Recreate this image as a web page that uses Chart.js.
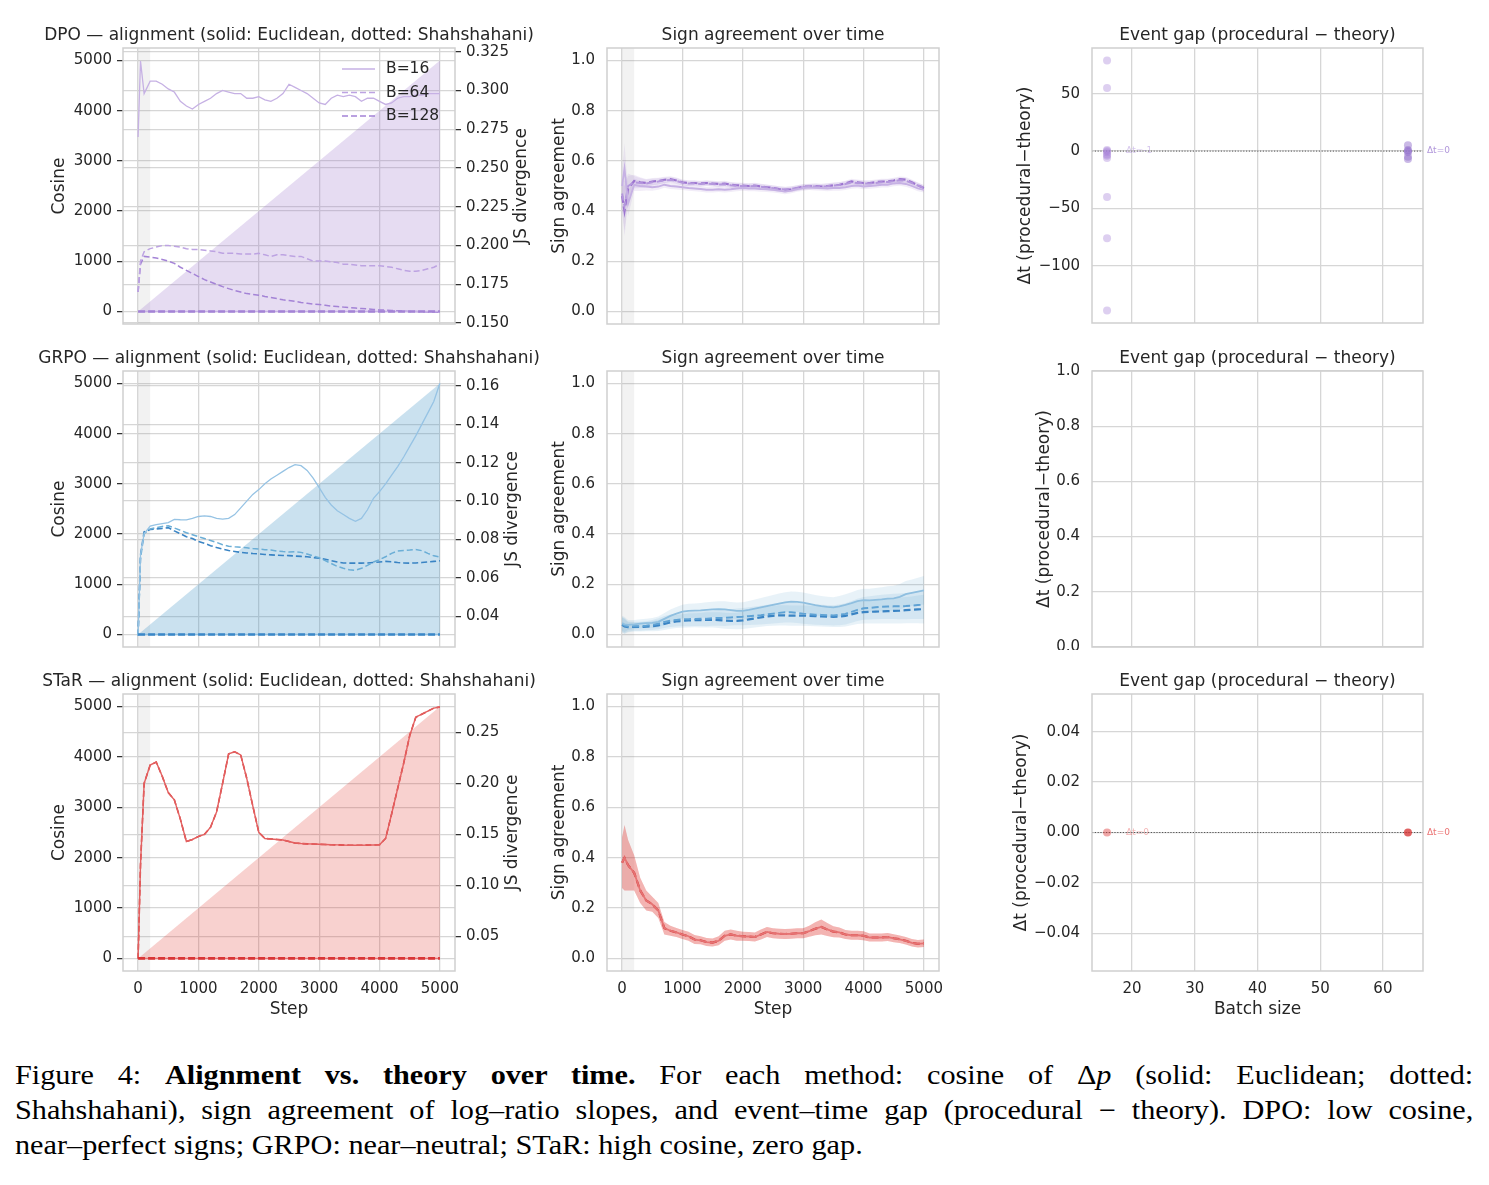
<!DOCTYPE html>
<html>
<head>
<meta charset="utf-8">
<script src="https://cdn.jsdelivr.net/npm/chart.js@4.4.1/dist/chart.umd.min.js"></script>
<style>
  body { margin: 0; background: #fff; width: 1489px; height: 1185px; position: relative; overflow: hidden; }
  canvas { position: absolute; }
  .cap { position: absolute; left: 15px; width: 1302px; transform: scaleX(1.12); transform-origin: left top;
         font-family: 'Liberation Serif', serif; font-size: 27px; line-height: 35px; color: #000;
         text-align: justify; text-align-last: justify; }
</style>
</head>
<body>
<canvas id="dpoAlign"></canvas><canvas id="dpoSign"></canvas><canvas id="dpoGap"></canvas>
<canvas id="grpoAlign"></canvas><canvas id="grpoSign"></canvas><canvas id="grpoGap"></canvas>
<canvas id="starAlign"></canvas><canvas id="starSign"></canvas><canvas id="starGap"></canvas>

<div class="cap" style="top:1058px">Figure 4: <b>Alignment vs. theory over time.</b> For each method: cosine of Δ<i>p</i> (solid: Euclidean; dotted:</div>
<div class="cap" style="top:1093px">Shahshahani), sign agreement of log–ratio slopes, and event–time gap (procedural − theory). DPO: low cosine,</div>
<div class="cap" style="top:1128px;text-align-last:left">near–perfect signs; GRPO: near–neutral; STaR: high cosine, zero gap.</div>

<script>
// ---- data ----
const steps = [0,40,100,200,300,400,500,600,700,800,900,1000,1100,1200,1300,1400,1500,1600,1700,1800,
  1900,2000,2100,2200,2300,2400,2500,2600,2700,2800,2900,3000,3100,3200,3300,3400,3500,3600,3700,3800,
  3900,4000,4100,4200,4300,4400,4500,4600,4700,4800,4900,5000];

// shaded step counter drawn on the cosine axis, and the cosine traces (flat at 0)
const fillSteps = [0, 5000];
const fillVals = [0, 5000];
const cosSteps = [0, 5000];
const dpoCos = [0, 0];
const grpoCos = [0, 0];
const starCos = [0, 0];

// JS divergence (right axis)
const dpoJs16 = [0.270,0.319,0.298,0.306,0.306,0.304,0.301,0.299,0.293,0.290,
  0.288,0.291,0.293,0.295,0.298,0.300,0.299,0.298,0.298,0.295,
  0.295,0.296,0.294,0.293,0.295,0.298,0.304,0.302,0.300,0.298,
  0.295,0.292,0.291,0.295,0.297,0.296,0.297,0.296,0.293,0.295,
  0.295,0.293,0.291,0.292,0.295,0.296,0.296,0.297,0.297,0.298,
  0.298,0.298];
const dpoJs64 = [0.170,0.190,0.196,0.198,0.199,0.200,0.200,0.1995,0.199,0.198,
  0.1975,0.1975,0.197,0.1965,0.196,0.195,0.195,0.195,0.1945,0.1945,
  0.1945,0.195,0.194,0.193,0.194,0.194,0.1935,0.193,0.193,0.1915,
  0.190,0.190,0.190,0.1895,0.189,0.188,0.188,0.1875,0.187,0.187,
  0.187,0.187,0.1865,0.186,0.185,0.184,0.1835,0.1835,0.184,0.185,
  0.186,0.188];
const dpoJs128 = [0.170,0.188,0.193,0.1925,0.192,0.191,0.190,0.1885,0.186,0.184,
  0.182,0.180,0.178,0.1765,0.175,0.1735,0.1722,0.171,0.170,0.169,
  0.1685,0.168,0.1672,0.1665,0.1658,0.165,0.1645,0.164,0.1633,0.1628,
  0.1623,0.162,0.1615,0.161,0.1607,0.1603,0.160,0.1597,0.1594,0.1591,
  0.1588,0.1585,0.1583,0.1581,0.1579,0.1577,0.1575,0.1574,0.1573,0.1572,
  0.1571,0.157];

const grpoJs16 = [0.030,0.072,0.083,0.087,0.0878,0.0883,0.0888,0.0905,0.0903,0.0902,
  0.091,0.092,0.0923,0.092,0.091,0.0906,0.091,0.093,0.0965,0.100,
  0.1035,0.106,0.109,0.1115,0.1135,0.1155,0.1175,0.119,0.1185,0.116,
  0.112,0.107,0.102,0.098,0.095,0.093,0.091,0.0895,0.091,0.0955,
  0.1015,0.105,0.109,0.1135,0.118,0.123,0.1285,0.134,0.140,0.146,
  0.152,0.1614];
const grpoJs64 = [0.030,0.070,0.083,0.0855,0.0862,0.0868,0.0872,0.086,0.0848,0.0835,
  0.0825,0.0815,0.0805,0.0795,0.0785,0.0773,0.0765,0.0762,0.076,0.0757,
  0.0753,0.075,0.0747,0.0745,0.074,0.0737,0.0735,0.0736,0.0733,0.0725,
  0.0715,0.0705,0.069,0.0675,0.066,0.065,0.0642,0.064,0.065,0.0665,
  0.0683,0.0695,0.071,0.0728,0.074,0.0743,0.0745,0.0748,0.0742,0.0728,
  0.0715,0.0709];
const grpoJs128 = [0.030,0.072,0.084,0.0852,0.0855,0.0858,0.0862,0.0845,0.083,0.0815,
  0.0805,0.079,0.078,0.0768,0.0758,0.075,0.0743,0.0738,0.0733,0.073,
  0.0727,0.0725,0.0722,0.072,0.0718,0.0717,0.0716,0.0714,0.0712,0.071,
  0.0706,0.0702,0.0697,0.069,0.0683,0.0678,0.0677,0.0677,0.0677,0.0678,
  0.068,0.0683,0.0686,0.0684,0.068,0.0678,0.0677,0.0678,0.068,0.0683,
  0.0686,0.0689];

const starJs = [0.028,0.120,0.200,0.218,0.221,0.207,0.191,0.184,0.165,0.143,
  0.145,0.148,0.150,0.157,0.172,0.200,0.229,0.231,0.228,0.205,
  0.178,0.152,0.146,0.1455,0.145,0.1445,0.143,0.1415,0.141,0.1407,
  0.1405,0.1403,0.140,0.1398,0.1397,0.1395,0.1394,0.1394,0.1394,0.1395,
  0.1396,0.1398,0.146,0.170,0.195,0.220,0.247,0.265,0.268,0.271,
  0.274,0.275];

// sign agreement (lines + half width of shaded band)
const dpoSign16 = [0.50,0.57,0.43,0.505,0.50,0.498,0.495,0.498,0.505,0.50,
  0.498,0.495,0.492,0.490,0.488,0.485,0.485,0.487,0.485,0.487,
  0.490,0.492,0.490,0.490,0.488,0.487,0.485,0.482,0.478,0.482,
  0.488,0.492,0.495,0.493,0.492,0.490,0.492,0.492,0.495,0.500,
  0.502,0.498,0.500,0.502,0.505,0.505,0.510,0.512,0.508,0.500,
  0.490,0.485];
const dpoSign64 = [0.47,0.42,0.50,0.515,0.512,0.510,0.515,0.518,0.522,0.524,
  0.520,0.513,0.510,0.510,0.508,0.510,0.508,0.506,0.507,0.503,
  0.501,0.500,0.499,0.500,0.497,0.494,0.491,0.488,0.486,0.488,
  0.492,0.496,0.497,0.498,0.497,0.499,0.502,0.504,0.508,0.514,
  0.512,0.510,0.510,0.512,0.515,0.516,0.519,0.523,0.521,0.512,
  0.502,0.493];
const dpoSign128 = [0.46,0.40,0.49,0.52,0.515,0.512,0.518,0.52,0.525,0.527,
  0.522,0.515,0.512,0.512,0.510,0.512,0.510,0.508,0.510,0.505,
  0.503,0.502,0.500,0.502,0.498,0.495,0.492,0.488,0.485,0.487,
  0.492,0.497,0.498,0.500,0.498,0.500,0.503,0.505,0.510,0.518,
  0.515,0.512,0.512,0.515,0.518,0.518,0.522,0.527,0.525,0.515,
  0.503,0.492];
const dpoSignHw = [0.06,0.10,0.05,0.025,0.02,0.016,0.014,0.013,0.012,0.012,
  0.012,0.011,0.011,0.011,0.011,0.011,0.011,0.011,0.011,0.011,
  0.011,0.011,0.011,0.011,0.011,0.011,0.011,0.011,0.011,0.011,
  0.011,0.011,0.011,0.011,0.011,0.011,0.011,0.011,0.011,0.011,
  0.011,0.011,0.011,0.011,0.011,0.011,0.011,0.011,0.011,0.011,
  0.011,0.011];

const grpoSign16 = [0.045,0.040,0.038,0.040,0.043,0.045,0.046,0.050,0.062,0.074,
  0.083,0.091,0.094,0.095,0.096,0.098,0.100,0.101,0.100,0.097,
  0.094,0.094,0.098,0.103,0.108,0.113,0.118,0.123,0.128,0.131,
  0.130,0.127,0.122,0.117,0.113,0.110,0.108,0.112,0.118,0.125,
  0.133,0.137,0.136,0.138,0.140,0.143,0.144,0.150,0.161,0.166,
  0.171,0.176];
const grpoSign64 = [0.040,0.035,0.032,0.033,0.033,0.035,0.038,0.043,0.050,0.055,
  0.058,0.060,0.061,0.062,0.063,0.063,0.065,0.066,0.066,0.068,
  0.070,0.071,0.073,0.075,0.077,0.080,0.083,0.086,0.088,0.088,
  0.086,0.083,0.081,0.079,0.078,0.077,0.076,0.078,0.082,0.090,
  0.098,0.104,0.106,0.108,0.110,0.111,0.112,0.112,0.113,0.115,
  0.117,0.119];
const grpoSign128 = [0.038,0.032,0.029,0.030,0.030,0.031,0.033,0.036,0.042,0.048,
  0.052,0.054,0.056,0.057,0.057,0.058,0.058,0.057,0.055,0.054,
  0.054,0.056,0.060,0.064,0.068,0.072,0.074,0.076,0.076,0.075,
  0.075,0.075,0.074,0.073,0.072,0.071,0.070,0.071,0.074,0.080,
  0.086,0.089,0.090,0.091,0.092,0.093,0.094,0.095,0.097,0.098,
  0.100,0.101];
const grpoSignHw = [0.03,0.03,0.02,0.018,0.018,0.018,0.02,0.022,0.024,0.025,
  0.026,0.027,0.028,0.028,0.029,0.03,0.03,0.031,0.032,0.032,
  0.033,0.034,0.035,0.036,0.037,0.038,0.039,0.04,0.04,0.04,
  0.04,0.04,0.04,0.04,0.04,0.04,0.04,0.041,0.042,0.043,
  0.044,0.045,0.046,0.047,0.048,0.049,0.05,0.051,0.052,0.053,
  0.055,0.057];

const starSign = [0.38,0.40,0.37,0.34,0.27,0.23,0.215,0.19,0.12,0.11,
  0.103,0.095,0.088,0.075,0.072,0.065,0.063,0.070,0.090,0.095,
  0.090,0.088,0.087,0.085,0.095,0.105,0.100,0.098,0.097,0.098,
  0.100,0.100,0.108,0.118,0.125,0.115,0.106,0.103,0.095,0.092,
  0.092,0.090,0.083,0.083,0.083,0.085,0.080,0.076,0.070,0.062,
  0.058,0.060];
const starSignHw = [0.10,0.13,0.10,0.07,0.05,0.04,0.03,0.03,0.025,0.02,
  0.018,0.018,0.018,0.018,0.016,0.016,0.016,0.018,0.02,0.02,
  0.02,0.018,0.018,0.018,0.02,0.02,0.02,0.02,0.02,0.02,
  0.02,0.02,0.022,0.026,0.03,0.026,0.022,0.02,0.018,0.018,
  0.018,0.018,0.016,0.016,0.016,0.016,0.016,0.015,0.015,0.015,
  0.015,0.015];

// event gap (procedural - theory) per batch size
const batchSizes = [16, 64];
const dpoGap16 = [79, 55, 1, 0, -1, -3, -4, -6, -40, -76, -139];
const dpoGap64 = [5, 1, 0, -1, -5, -7];
const starGap16 = [0];
const starGap64 = [0];

// ---- styling ----
const INK = '#262626';
const GRID = '#d6d6d6';
const TICK_PX = 15, LABEL_PX = 17;
Chart.defaults.font.family = "'DejaVu Sans', sans-serif";
Chart.defaults.color = INK;

const xy = (xs, ys) => xs.map((x, i) => ({ x: x, y: ys[i] }));
const atBatch = (b, ys) => ys.map(v => ({ x: b, y: v }));

function fixTicks(vals) {
  return axis => { axis.ticks = vals.map(v => ({ value: v })); };
}
function fmt(dec) {
  return v => (v < 0 ? '\u2212' : '') + Math.abs(v).toFixed(dec);
}

function yAxis(o) {
  return {
    position: o.pos || 'left', min: o.min, max: o.max,
    afterBuildTicks: fixTicks(o.ticks),
    afterFit: s => { s.width = o.w; s.paddingTop = 0; s.paddingBottom = 0; },
    grid: { color: GRID, lineWidth: 1.3, drawTicks: !!o.marks, tickLength: 6, tickColor: INK, tickWidth: 1.2 },
    border: { display: false },
    ticks: { color: INK, font: { size: TICK_PX }, padding: o.marks ? 5 : 12, autoSkip: false, callback: fmt(o.dec) },
    title: { display: !!o.title, text: o.title, color: INK, font: { size: LABEL_PX }, padding: 0 }
  };
}
function xAxis(o) {
  return {
    type: 'linear', position: 'bottom', min: o.min, max: o.max,
    afterBuildTicks: fixTicks(o.ticks),
    afterFit: s => { s.height = o.h; s.paddingLeft = 0; s.paddingRight = 0; },
    grid: { color: GRID, lineWidth: 1.3, drawTicks: false },
    border: { display: false },
    ticks: { display: !!o.title, color: INK, font: { size: TICK_PX }, padding: 9, autoSkip: false, maxRotation: 0, callback: fmt(0) },
    title: { display: !!o.title, text: o.title, color: INK, font: { size: LABEL_PX }, padding: 0 }
  };
}

// ---- small plugins ----
const frame = {
  id: 'frame',
  afterDatasetsDraw(chart) {
    const { ctx, chartArea: a } = chart;
    ctx.save();
    ctx.strokeStyle = '#cfcfcf'; ctx.lineWidth = 1.5;
    ctx.strokeRect(a.left, a.top, a.right - a.left, a.bottom - a.top);
    ctx.restore();
  }
};
// panel title centred over the plot area, allowed to run wider than it
const panelTitle = {
  id: 'panelTitle',
  afterDraw(chart, args, opts) {
    if (!opts.text) return;
    const { ctx, chartArea: a } = chart;
    ctx.save();
    ctx.font = LABEL_PX + "px 'DejaVu Sans'"; ctx.fillStyle = INK;
    ctx.textAlign = 'center'; ctx.textBaseline = 'middle';
    ctx.fillText(opts.text, (a.left + a.right) / 2, a.top - 12);
    ctx.restore();
  }
};
const warmBand = {
  id: 'warmBand',
  beforeDatasetsDraw(chart, args, opts) {
    if (opts.to === undefined) return;
    const { ctx, chartArea: a, scales } = chart;
    const x0 = scales.x.getPixelForValue(opts.from), x1 = scales.x.getPixelForValue(opts.to);
    ctx.save();
    ctx.fillStyle = 'rgba(128,128,128,0.1)';
    ctx.fillRect(x0, a.top, x1 - x0, a.bottom - a.top);
    ctx.restore();
  }
};
const rightTitle = {
  id: 'rightTitle',
  afterDraw(chart, args, opts) {
    if (!opts.text) return;
    const { ctx, chartArea: a } = chart;
    const s = chart.scales.y1;
    ctx.save();
    ctx.translate(s.right - 10.2, (a.top + a.bottom) / 2);
    ctx.rotate(-Math.PI / 2);
    ctx.font = LABEL_PX + "px 'DejaVu Sans'"; ctx.fillStyle = INK;
    ctx.textAlign = 'center'; ctx.textBaseline = 'middle';
    ctx.fillText(opts.text, 0, 0);
    ctx.restore();
  }
};
const legendIn = {
  id: 'legendIn',
  afterDatasetsDraw(chart, args, opts) {
    if (!opts.items) return;
    const { ctx, chartArea: a } = chart;
    ctx.save();
    ctx.font = "15.5px 'DejaVu Sans'"; ctx.textBaseline = 'middle';
    opts.items.forEach((it, i) => {
      const y = a.top + 21 + i * 23.5;
      ctx.strokeStyle = it.color; ctx.lineWidth = it.width; ctx.setLineDash(it.dash);
      ctx.beginPath(); ctx.moveTo(a.right - 113, y); ctx.lineTo(a.right - 80, y); ctx.stroke();
      ctx.fillStyle = INK; ctx.fillText(it.label, a.right - 69, y);
    });
    ctx.restore();
  }
};
const gapMarks = {
  id: 'gapMarks',
  beforeDatasetsDraw(chart, args, opts) {
    if (!opts.zero) return;
    const { ctx, chartArea: a, scales } = chart;
    const y = scales.y.getPixelForValue(0);
    ctx.save();
    ctx.strokeStyle = '#555'; ctx.lineWidth = 1; ctx.setLineDash([1.2, 1.6]);
    ctx.beginPath(); ctx.moveTo(a.left, y); ctx.lineTo(a.right, y); ctx.stroke();
    ctx.restore();
  },
  afterDatasetsDraw(chart, args, opts) {
    if (!opts.labels) return;
    const { ctx, scales } = chart;
    ctx.save();
    ctx.font = "9px 'DejaVu Sans'"; ctx.textBaseline = 'middle';
    opts.labels.forEach(l => {
      ctx.fillStyle = l.color;
      ctx.fillText(l.text, scales.x.getPixelForValue(l.x) + 19, scales.y.getPixelForValue(l.y));
    });
    ctx.restore();
  }
};
Chart.register(frame, panelTitle, warmBand, rightTitle, legendIn, gapMarks);

function place(id, g) {
  const cv = document.getElementById(id);
  cv.width = g.w; cv.height = g.h;
  cv.style.left = g.x + 'px'; cv.style.top = g.y + 'px';
  return cv;
}
function baseOptions(title, pad, scales, extra) {
  return {
    responsive: false, animation: false, events: [],
    layout: { padding: { top: 21, left: pad.left || 0, right: pad.right || 0 } },
    elements: { line: { tension: 0 } },
    plugins: Object.assign({
      legend: { display: false }, tooltip: { enabled: false }, title: { display: false },
      panelTitle: { text: title }
    }, extra),
    scales: scales
  };
}

// ---- left column: alignment ----
function alignChart(id, g, o) {
  const datasets = [
    { data: xy(fillSteps, fillVals), yAxisID: 'y', fill: 'origin', backgroundColor: o.fill, borderWidth: 0, pointRadius: 0, order: 30 }
  ];
  o.js.forEach(s => datasets.push({ data: xy(steps, s.v), yAxisID: 'y1', borderColor: s.c, borderWidth: s.w,
    borderDash: s.d, pointRadius: 0, fill: false, order: 5 }));
  datasets.push({ data: xy(cosSteps, o.cos), yAxisID: 'y', borderColor: o.cosLight, borderWidth: 1.5, pointRadius: 0, fill: false, order: 4 });
  datasets.push({ data: xy(cosSteps, o.cos), yAxisID: 'y', borderColor: o.cosDark, borderWidth: 2.6, borderDash: [7, 3], pointRadius: 0, fill: false, order: 3 });

  const scales = {
    x: xAxis({ min: -250, max: 5250, ticks: [0, 1000, 2000, 3000, 4000, 5000], h: o.bottom ? 49 : 3, title: o.bottom ? 'Step' : '' }),
    y: yAxis({ min: -250, max: 5250, ticks: [0, 1000, 2000, 3000, 4000, 5000], dec: 0, w: 74, marks: true, title: 'Cosine' }),
    y1: yAxis({ pos: 'right', min: o.jsMin, max: o.jsMax, ticks: o.jsTicks, dec: o.jsDec, w: o.rightW, marks: true })
  };
  const extra = { warmBand: { from: 0, to: 200 }, rightTitle: { text: 'JS divergence' } };
  if (o.legend) extra.legendIn = { items: o.legend };
  return new Chart(place(id, g), { type: 'line', data: { datasets: datasets },
    options: baseOptions(o.title, { left: 14, right: 20 }, scales, extra) });
}

alignChart('dpoAlign', { x: 35, y: 27, w: 517, h: 300 }, {
  title: 'DPO \u2014 alignment (solid: Euclidean, dotted: Shahshahani)',
  fill: 'rgba(150,110,200,0.24)', cos: dpoCos, cosLight: '#c6b1e4', cosDark: '#a483d6',
  js: [
    { v: dpoJs16, c: '#c6b1e4', w: 1.3, d: [] },
    { v: dpoJs64, c: '#bda3e2', w: 1.5, d: [6, 3] },
    { v: dpoJs128, c: '#a483d6', w: 1.5, d: [6, 3] }
  ],
  jsMin: 0.1494, jsMax: 0.3274, jsTicks: [0.150, 0.175, 0.200, 0.225, 0.250, 0.275, 0.300, 0.325], jsDec: 3, rightW: 77,
  legend: [
    { label: 'B=16', color: '#c6b1e4', width: 1.5, dash: [] },
    { label: 'B=64', color: '#bda3e2', width: 1.7, dash: [6, 3] },
    { label: 'B=128', color: '#a483d6', width: 1.7, dash: [6, 3] }
  ]
});
alignChart('grpoAlign', { x: 35, y: 350, w: 508, h: 300 }, {
  title: 'GRPO \u2014 alignment (solid: Euclidean, dotted: Shahshahani)',
  fill: 'rgba(66,146,198,0.28)', cos: grpoCos, cosLight: '#8fbfe0', cosDark: '#3a87c7',
  js: [
    { v: grpoJs16, c: '#96c3e4', w: 1.3, d: [] },
    { v: grpoJs64, c: '#6baed6', w: 1.5, d: [6, 3] },
    { v: grpoJs128, c: '#3a84c4', w: 1.6, d: [6, 3] }
  ],
  jsMin: 0.024, jsMax: 0.1678, jsTicks: [0.04, 0.06, 0.08, 0.10, 0.12, 0.14, 0.16], jsDec: 2, rightW: 68
});
alignChart('starAlign', { x: 35, y: 673, w: 508, h: 347 }, {
  title: 'STaR \u2014 alignment (solid: Euclidean, dotted: Shahshahani)', bottom: true,
  fill: 'rgba(222,45,38,0.22)', cos: starCos, cosLight: '#e77070', cosDark: '#d93636',
  js: [
    { v: starJs, c: '#e36060', w: 1.4, d: [] },
    { v: starJs, c: '#d93636', w: 1.6, d: [6, 3] }
  ],
  jsMin: 0.0159, jsMax: 0.2878, jsTicks: [0.05, 0.10, 0.15, 0.20, 0.25], jsDec: 2, rightW: 68
});

// ---- middle column: sign agreement ----
function signChart(id, g, o) {
  const datasets = [];
  o.lines.forEach(l => {
    datasets.push({ data: xy(steps, l.v.map((v, i) => v - o.hw[i])), borderWidth: 0, pointRadius: 0, fill: false, order: 20 });
    datasets.push({ data: xy(steps, l.v.map((v, i) => v + o.hw[i])), borderWidth: 0, pointRadius: 0, fill: '-1', backgroundColor: o.band, order: 20 });
  });
  o.lines.forEach(l => datasets.push({ data: xy(steps, l.v), borderColor: l.c, borderWidth: l.w, borderDash: l.d,
    pointRadius: 0, fill: false, order: 1 }));
  const scales = {
    x: xAxis({ min: -250, max: 5250, ticks: [0, 1000, 2000, 3000, 4000, 5000], h: o.bottom ? 49 : 3, title: o.bottom ? 'Step' : '' }),
    y: yAxis({ min: -0.05, max: 1.05, ticks: [0, 0.2, 0.4, 0.6, 0.8, 1.0], dec: 1, w: 58, title: 'Sign agreement' })
  };
  return new Chart(place(id, g), { type: 'line', data: { datasets: datasets },
    options: baseOptions('Sign agreement over time', { right: 20 }, scales, { warmBand: { from: 0, to: 200 } }) });
}
signChart('dpoSign', { x: 549, y: 27, w: 410, h: 300 }, {
  hw: dpoSignHw, band: 'rgba(150,110,200,0.12)',
  lines: [
    { v: dpoSign16, c: '#c6b1e4', w: 1.8, d: [] },
    { v: dpoSign64, c: '#b497dd', w: 2, d: [7, 3.5] },
    { v: dpoSign128, c: '#9c74d0', w: 2.2, d: [7, 3.5] }
  ]
});
signChart('grpoSign', { x: 549, y: 350, w: 410, h: 300 }, {
  hw: grpoSignHw, band: 'rgba(66,146,198,0.12)',
  lines: [
    { v: grpoSign16, c: '#8fbfe0', w: 1.8, d: [] },
    { v: grpoSign64, c: '#5fa2d4', w: 2, d: [7, 3.5] },
    { v: grpoSign128, c: '#3a84c4', w: 2.2, d: [7, 3.5] }
  ]
});
signChart('starSign', { x: 549, y: 673, w: 410, h: 347 }, {
  hw: starSignHw, band: 'rgba(222,45,38,0.2)', bottom: true,
  lines: [
    { v: starSign, c: '#e57373', w: 1.8, d: [] },
    { v: starSign, c: '#d93636', w: 2.2, d: [7, 3.5] }
  ]
});

// ---- right column: event gap ----
function gapChart(id, g, o) {
  const datasets = o.points.map(p => ({ data: atBatch(p.b, p.v), backgroundColor: p.c, borderColor: p.c,
    pointRadius: 4, pointBorderWidth: 0 }));
  const scales = {
    x: xAxis({ min: 13.6, max: 66.4, ticks: [20, 30, 40, 50, 60], h: o.bottom ? 49 : 3, title: o.bottom ? 'Batch size' : '' }),
    y: yAxis({ min: o.min, max: o.max, ticks: o.ticks, dec: o.dec, w: o.w, title: 'Δt (procedural\u2212theory)' })
  };
  const extra = {};
  if (o.labels) extra.gapMarks = { zero: true, labels: o.labels };
  return new Chart(place(id, g), { type: 'scatter', data: { datasets: datasets },
    options: baseOptions('Event gap (procedural \u2212 theory)', { right: 50 }, scales, extra) });
}
gapChart('dpoGap', { x: 1015, y: 27, w: 458, h: 300 }, {
  min: -149.9, max: 89.9, ticks: [-100, -50, 0, 50], dec: 0, w: 77,
  points: [
    { b: batchSizes[0], v: dpoGap16, c: 'rgba(165,130,215,0.38)' },
    { b: batchSizes[1], v: dpoGap64, c: 'rgba(150,115,205,0.5)' }
  ],
  labels: [
    { x: batchSizes[0], y: 0, text: 'Δt=-1', color: 'rgba(165,130,215,0.45)' },
    { x: batchSizes[1], y: 0, text: 'Δt=0', color: 'rgba(150,115,205,0.75)' }
  ]
});
gapChart('grpoGap', { x: 1034, y: 350, w: 439, h: 300 }, {
  min: 0, max: 1, ticks: [0, 0.2, 0.4, 0.6, 0.8, 1.0], dec: 1, w: 58, points: []
});
gapChart('starGap', { x: 1011, y: 673, w: 462, h: 347 }, {
  min: -0.055, max: 0.055, ticks: [-0.04, -0.02, 0, 0.02, 0.04], dec: 2, w: 81, bottom: true,
  points: [
    { b: batchSizes[0], v: starGap16, c: 'rgba(222,60,60,0.45)' },
    { b: batchSizes[1], v: starGap64, c: 'rgba(214,45,45,0.75)' }
  ],
  labels: [
    { x: batchSizes[0], y: 0, text: 'Δt=0', color: 'rgba(230,90,90,0.45)' },
    { x: batchSizes[1], y: 0, text: 'Δt=0', color: 'rgba(230,80,80,0.8)' }
  ]
});
</script>
</body>
</html>
